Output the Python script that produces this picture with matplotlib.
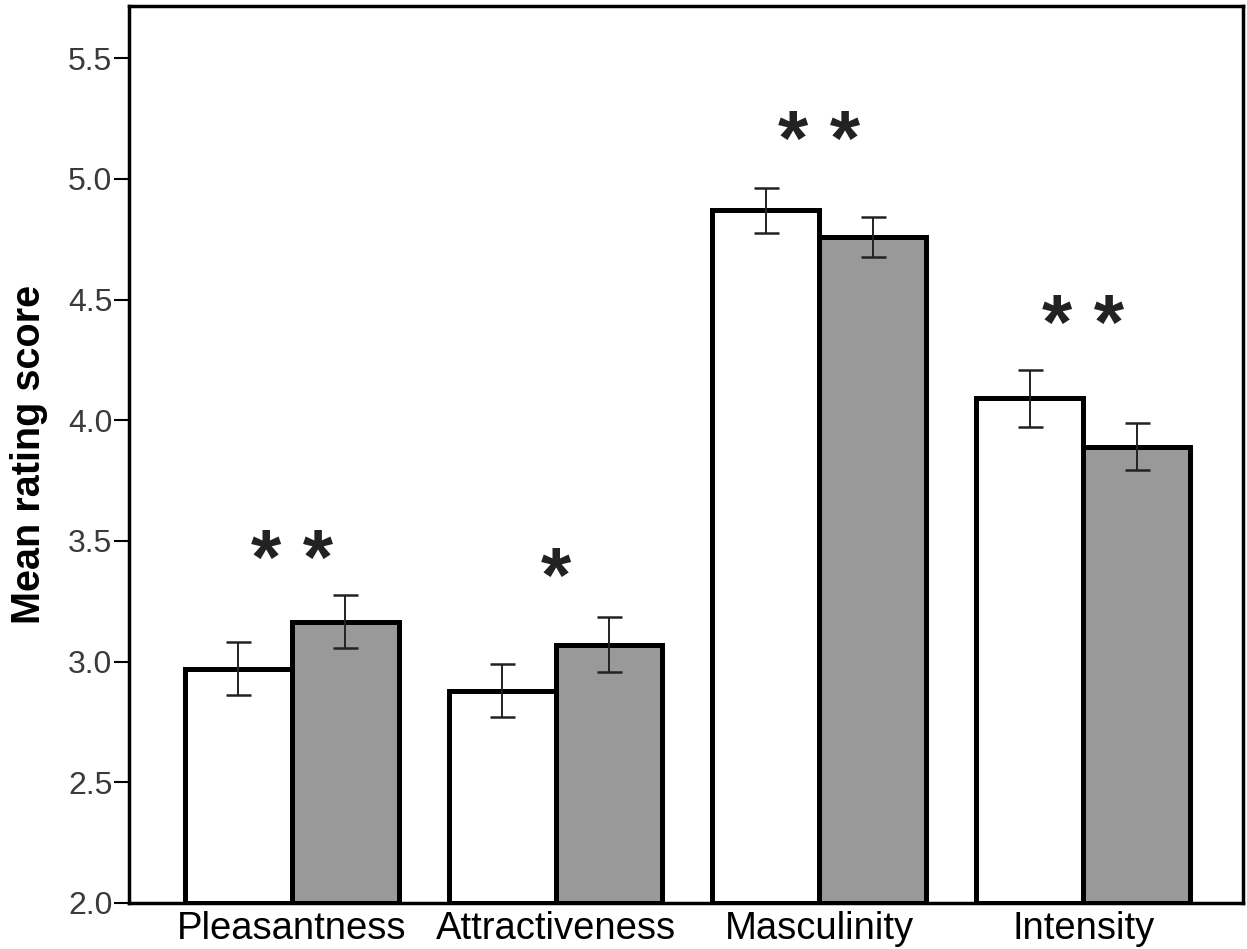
import matplotlib.pyplot as plt
import numpy as np

categories = ['Pleasantness', 'Attractiveness', 'Masculinity', 'Intensity']
white_means = [2.97, 2.88, 4.87, 4.09]
white_err = [0.11, 0.11, 0.094, 0.12]
gray_means = [3.165, 3.07, 4.76, 3.89]
gray_err = [0.11, 0.113, 0.083, 0.098]
star_labels = ['* *', '*', '* *', '* *']
star_heights = [3.405, 3.33, 5.144, 4.378]

plt.rcParams['font.family'] = ['Liberation Sans', 'DejaVu Sans']

fig = plt.figure(figsize=(12.47, 9.49), dpi=100)
ax = fig.add_axes([0.1034, 0.0485, 0.8934, 0.9452])

x = np.arange(len(categories))
w = 0.405
ax.bar(x - w / 2, [m - 2 for m in white_means], w, bottom=2, color='white',
       edgecolor='black', linewidth=3.6, zorder=2)
ax.bar(x + w / 2, [m - 2 for m in gray_means], w, bottom=2, color='#999999',
       edgecolor='black', linewidth=3.6, zorder=2)
ax.errorbar(x - w / 2, white_means, yerr=white_err, fmt='none', ecolor='#222222',
            elinewidth=1.4, capsize=9, capthick=1.8, zorder=3)
ax.errorbar(x + w / 2, gray_means, yerr=gray_err, fmt='none', ecolor='#222222',
            elinewidth=1.4, capsize=9, capthick=1.8, zorder=3)

# significance stars
for xi, lab, h in zip(x, star_labels, star_heights):
    ax.text(xi, h, lab, ha='center', va='center', fontsize=56, fontweight='bold',
            color='#222222')

ax.set_xlim(-0.617, 3.606)
ax.set_ylim(2.0, 5.716)
ax.set_yticks(np.arange(2.0, 5.51, 0.5))
ax.set_yticklabels(['%.1f' % v for v in np.arange(2.0, 5.51, 0.5)])
ax.set_xticks(x)
ax.set_xticklabels(categories)
ax.tick_params(axis='x', length=0, labelsize=27.5, pad=6)
ax.tick_params(axis='y', length=11, width=1.5, labelsize=23, labelcolor='#3a3a3a', pad=1)
for s in ax.spines.values():
    s.set_linewidth(2.5)

ax.set_ylabel('Mean rating score', family=['Liberation Sans Narrow', 'Liberation Sans'],
              fontsize=28.5, fontweight='bold', labelpad=14)

fig.savefig('out.png', dpi=100)
